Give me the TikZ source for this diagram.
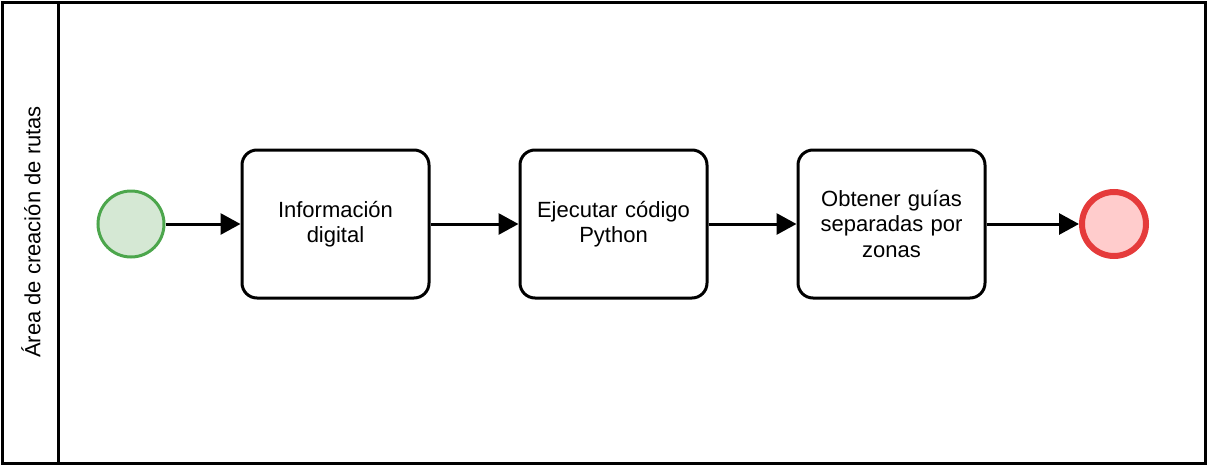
\documentclass[tikz,border=0pt]{standalone}
\usepackage{fontspec}
\setmainfont{Liberation Sans}
\usetikzlibrary{arrows.meta}
\begin{document}
\begin{tikzpicture}[x=1pt,y=-1pt,
  lbl/.style={font=\fontsize{22}{25.5}\selectfont},
  task/.style={draw=black,line width=3pt,rounded corners=15pt,fill=white,
    minimum width=187pt,minimum height=148pt,align=center,inner sep=0pt,lbl,
    text width=170pt},
  startev/.style={circle,draw={rgb,255:red,76;green,166;blue,76},line width=3pt,
    fill={rgb,255:red,213;green,232;blue,212},minimum size=66pt,inner sep=0pt},
  endev/.style={circle,draw={rgb,255:red,229;green,59;blue,59},line width=6pt,
    fill={rgb,255:red,255;green,204;blue,204},minimum size=64pt,inner sep=0pt},
  flow/.style={line width=3pt,-{Triangle[length=20pt,width=21pt]}}]
\useasboundingbox (0,0) rectangle (1208,466);
% pool and lane header
\draw[line width=3pt] (2,2) rectangle (1205,463);
\draw[line width=3pt] (58,2) -- (58,463);
\node[lbl,rotate=90] (lane) at (31,232) {Área de creación de rutas};
% events and tasks
\node[startev] (start) at (131,224) {};
\node[task] (t1) at (335.5,224) {Información\\digital};
\node[task] (t2) at (613.5,224) {Ejecutar código\\Python};
\node[task] (t3) at (891.5,224) {Obtener guías\\separadas por\\zonas};
\node[endev] (end) at (1114,224) {};
% sequence flows
\draw[flow] (start) -- (t1);
\draw[flow] (t1) -- (t2);
\draw[flow] (t2) -- (t3);
\draw[flow] (t3) -- (end);
\end{tikzpicture}
\end{document}
